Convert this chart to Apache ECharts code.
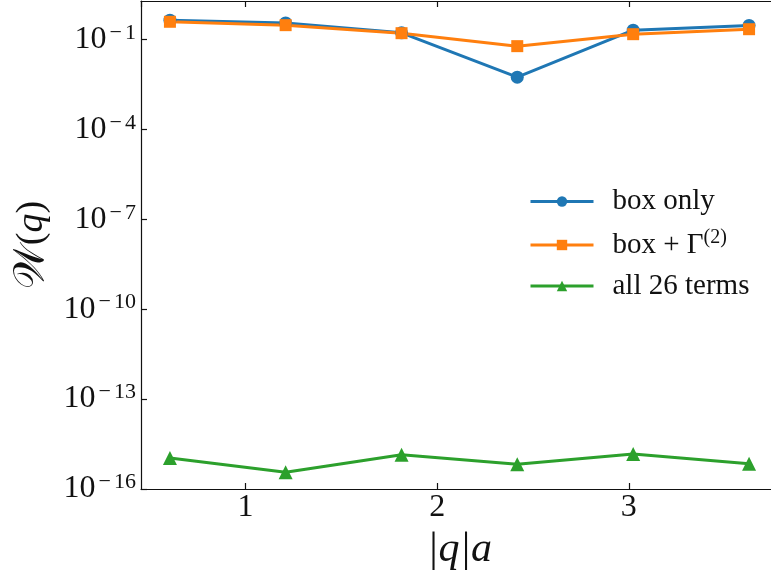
<!DOCTYPE html>
<html>
<head>
<meta charset="utf-8">
<script src="https://cdn.jsdelivr.net/npm/echarts@6/dist/echarts.min.js"></script>
<style>html,body{margin:0;padding:0;background:#fff}#c{width:771px;height:578px}</style>
</head>
<body>
<div id="c"></div>
<script>
const xValues = [0.605, 1.209, 1.814, 2.418, 3.023, 3.628];
const boxOnly = [0.44, 0.357, 0.166, 0.00553, 0.204, 0.293];
const boxGamma = [0.389, 0.30, 0.162, 0.0598, 0.150, 0.220];
const allTerms = [1.08e-15, 3.6e-16, 1.39e-15, 6.65e-16, 1.47e-15, 6.97e-16];
const seriesNames = ['box only', 'box + Γ(2)', 'all 26 terms'];
const xRange = [0.454, 3.779];
const yRange = [1e-16, 1.92];

const serif = '"Liberation Serif", "DejaVu Serif", serif';
const chart = echarts.init(document.getElementById('c'), null, {renderer: 'canvas'});
const pairs = arr => xValues.map((x, i) => [x, arr[i]]);

const lineSeries = (name, data, color, symbol, size) => ({
  name, type: 'line', data: pairs(data), symbol, symbolSize: size,
  showSymbol: true,
  lineStyle: {color, width: 3}, itemStyle: {color},
  emphasis: {disabled: true}, animation: false, clip: false
});

chart.setOption({
  animation: false,
  grid: {left: 141, right: -7, top: 1, bottom: 89, containLabel: false, outerBoundsMode: 'none'},
  legend: {
    orient: 'vertical', left: 524, top: 182, itemGap: 12,
    itemWidth: 63, itemHeight: 13,
    lineStyle: {width: 3},
    textStyle: {fontFamily: serif, fontSize: 29, color: '#111', padding: [0, 0, 0, 14],
      rich: {s: {fontFamily: serif, fontSize: 20, padding: [0, 0, 14, 0], color: '#111'}}},
    formatter: n => n === 'box + Γ(2)' ? 'box + Γ{s|(2)}' : n,
    data: seriesNames
  },
  xAxis: [{
    type: 'value', min: xRange[0], max: xRange[1], splitNumber: 3,
    name: '|q|a', nameLocation: 'middle', nameGap: 35,
    nameTextStyle: {fontFamily: serif, fontSize: 42, fontStyle: 'italic', color: '#111'},
    axisLine: {lineStyle: {color: '#111', width: 1.2}},
    axisTick: {inside: true, length: 6, lineStyle: {color: '#111', width: 1.2}},
    axisLabel: {fontFamily: serif, fontSize: 32, color: '#111', margin: 3,
      showMinLabel: false, showMaxLabel: false,
      formatter: v => Math.abs(v - Math.round(v)) < 1e-6 ? String(Math.round(v)) : ''},
    splitLine: {show: false}
  }, {
    type: 'value', position: 'top', min: xRange[0], max: xRange[1], splitNumber: 3,
    axisLine: {lineStyle: {color: '#111', width: 1.2}},
    axisTick: {inside: true, length: 6, lineStyle: {color: '#111', width: 1.2}},
    axisLabel: {show: false}, splitLine: {show: false}
  }],
  yAxis: {
    type: 'log', logBase: 10, min: yRange[0], max: yRange[1], interval: 3,
    name: '{w|𝒲}({i|q})', nameLocation: 'middle', nameGap: 86, nameRotate: 90,
    nameTextStyle: {fontFamily: serif, fontSize: 38, color: '#111',
      rich: {
        w: {fontFamily: serif, fontSize: 42, color: '#111'},
        i: {fontFamily: serif, fontSize: 38, fontStyle: 'italic', color: '#111'}
      }},
    axisLine: {lineStyle: {color: '#111', width: 1.2}},
    axisTick: {inside: true, length: 6, lineStyle: {color: '#111', width: 1.2}},
    axisLabel: {
      color: '#111', margin: 5, showMaxLabel: false,
      formatter: v => {
        const e = Math.round(Math.log10(v));
        if (e > -1) return '';
        return '{b|10}{m|\u2212}{s|' + Math.abs(e) + '}';
      },
      rich: {
        b: {fontFamily: serif, fontSize: 32, color: '#111'},
        m: {fontFamily: serif, fontSize: 22, color: '#111', padding: [0, 3, 13, 3]},
        s: {fontFamily: serif, fontSize: 22, color: '#111', padding: [0, 0, 13, 0]}
      }
    },
    splitLine: {show: false}
  },
  series: [
    lineSeries(seriesNames[0], boxOnly, '#1f77b4', 'circle', 13),
    lineSeries(seriesNames[1], boxGamma, '#ff7f0e', 'rect', 12),
    lineSeries(seriesNames[2], allTerms, '#2ca02c', 'triangle', 14)
  ]
});
</script>
</body>
</html>
